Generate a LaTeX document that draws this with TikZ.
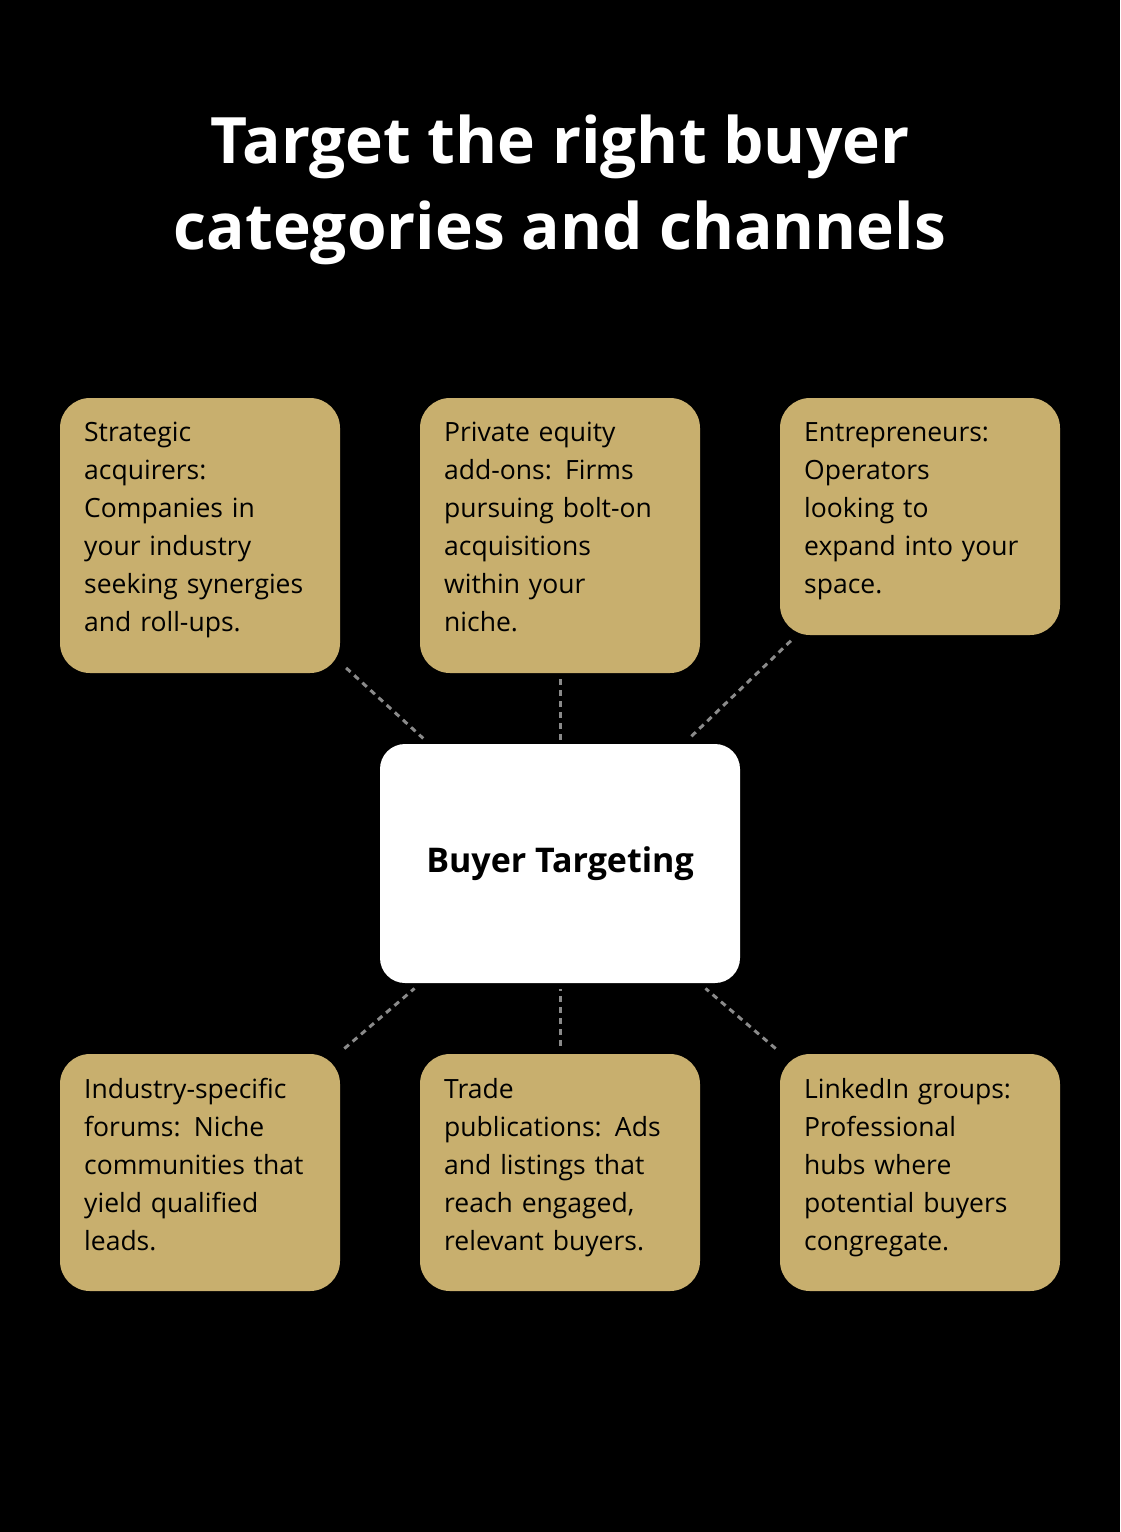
\documentclass[tikz,border=0pt]{standalone}
\usepackage{fontspec}
\setmainfont{Open Sans}
\definecolor{gold}{HTML}{C8AF6E}
\definecolor{dash}{HTML}{8A8A8A}
\begin{document}
\begin{tikzpicture}[x=1pt,y=-1pt,
  box/.style={fill=gold,rounded corners=30pt,draw=none},
  txt/.style={anchor=north west,align=left,inner sep=0pt,text width=250pt,font=\fontsize{26.5}{38}\selectfont,text=black},
  con/.style={draw=dash,line width=3pt,dash pattern=on 6pt off 5pt,shorten >=8pt,shorten <=8pt}]
\fill[black] (0,0) rectangle (1120,1532);
\useasboundingbox (0,0) rectangle (1120,1532);
\node[font=\bfseries\fontsize{64}{86}\selectfont,text=white,align=center] (title) at (560,190) {Target the right buyer\\categories and channels};
\node[fill=white,rounded corners=25pt,minimum width=360pt,minimum height=239pt,font=\bfseries\fontsize{34}{40}\selectfont] (c) at (560,863.5) {Buyer Targeting};
\node[box,minimum width=280pt,minimum height=275pt] (b1) at (200,535.5) {};
\node[box,minimum width=280pt,minimum height=275pt] (b2) at (560,535.5) {};
\node[box,minimum width=280pt,minimum height=237pt] (b3) at (920,516.5) {};
\node[box,minimum width=280pt,minimum height=237pt] (b4) at (200,1172.5) {};
\node[box,minimum width=280pt,minimum height=237pt] (b5) at (560,1172.5) {};
\node[box,minimum width=280pt,minimum height=237pt] (b6) at (920,1172.5) {};
\node[txt] (t1) at (84,422) {Strategic\\acquirers:\\Companies in\\your industry\\seeking synergies\\and roll-ups.};
\node[txt] (t2) at (444,422) {Private equity\\add-ons: Firms\\pursuing bolt-on\\acquisitions\\within your\\niche.};
\node[txt] (t3) at (804,422) {Entrepreneurs:\\Operators\\looking to\\expand into your\\space.};
\node[txt] (t4) at (84,1078) {Industry-specific\\forums: Niche\\communities that\\yield qualified\\leads.};
\node[txt] (t5) at (444,1078) {Trade\\publications: Ads\\and listings that\\reach engaged,\\relevant buyers.};
\node[txt] (t6) at (804,1078) {LinkedIn groups:\\Professional\\hubs where\\potential buyers\\congregate.};
\foreach \b in {b1,b3,b4,b6} \draw[con] (\b) -- (c);
\draw[con,shorten >=4pt,shorten <=6pt] (b2) -- (c);
\draw[con,shorten >=6pt,shorten <=8pt] (b5) -- (c);
\end{tikzpicture}
\end{document}
